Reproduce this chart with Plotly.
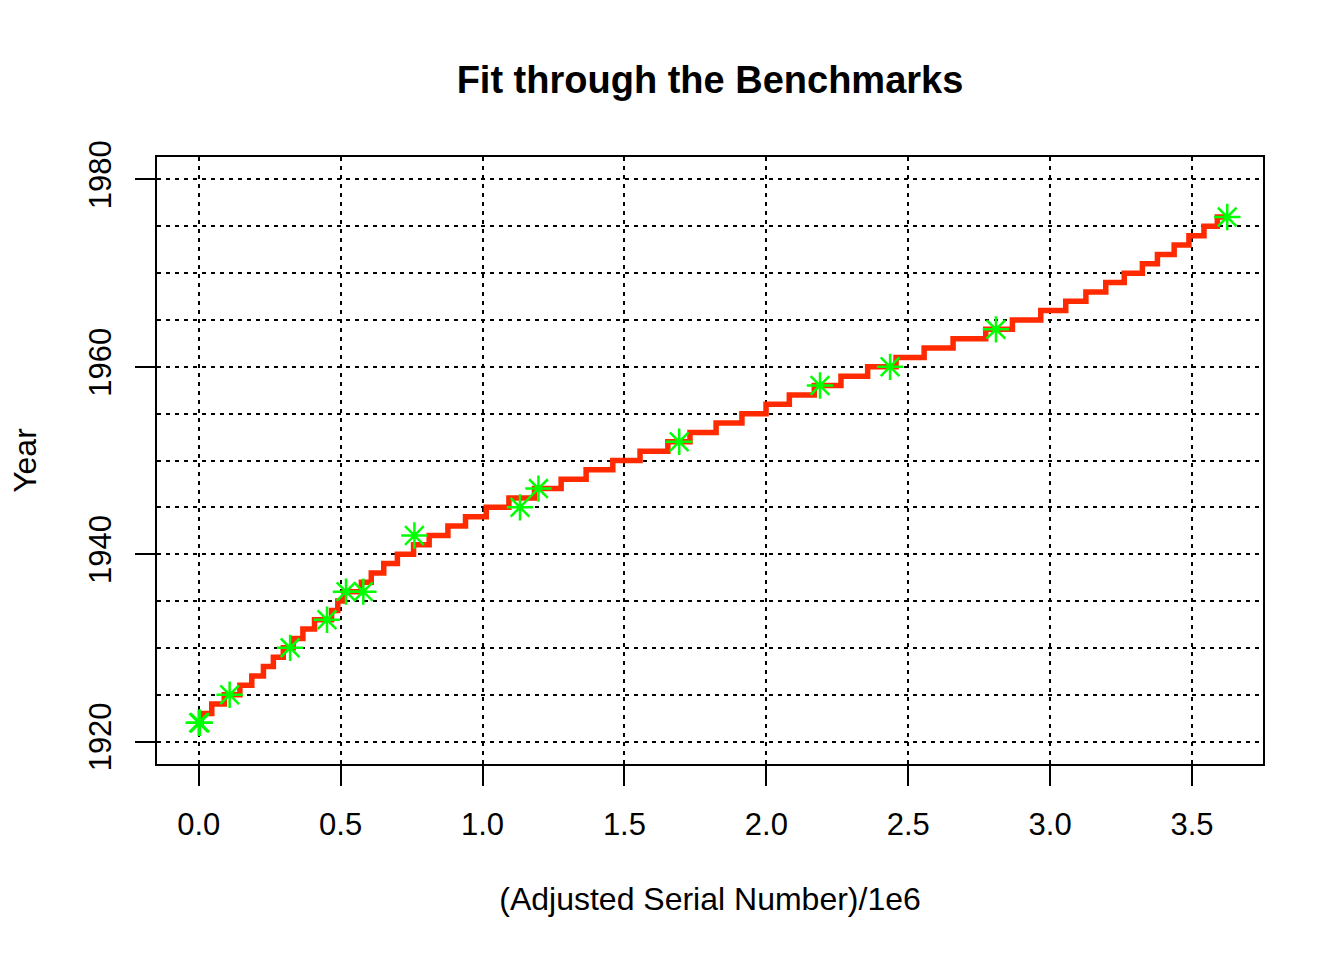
import plotly.graph_objects as go

# step fit: x where each year's level starts (serial number / 1e6)
fit_years = list(range(1922, 1977))
fit_start = [0.000, 0.008, 0.046, 0.090, 0.145, 0.187, 0.228, 0.263, 0.298, 0.333,
             0.367, 0.408, 0.468, 0.490, 0.512, 0.573, 0.608, 0.652, 0.700, 0.757,
             0.812, 0.878, 0.940, 1.013, 1.093, 1.183, 1.277, 1.365, 1.459, 1.555,
             1.653, 1.731, 1.823, 1.914, 1.999, 2.081, 2.169, 2.263, 2.357, 2.457,
             2.556, 2.658, 2.773, 2.867, 2.967, 3.055, 3.126, 3.196, 3.261, 3.325,
             3.378, 3.437, 3.489, 3.542, 3.589]
fit_end = 3.619

# benchmarks
bench_x = [0.000, 0.004, 0.109, 0.322, 0.452, 0.519, 0.580, 0.760, 1.132, 1.197,
           1.693, 2.189, 2.436, 2.809, 3.624]
bench_y = [1922, 1922, 1925, 1930, 1933, 1936, 1936, 1942, 1945, 1947,
           1952, 1958, 1960, 1964, 1976]

font = "Liberation Sans, Arial, Helvetica, sans-serif"
grid = dict(gridcolor="black", gridwidth=1.8, griddash="4px,5px")

fig = go.Figure()

fig.add_trace(go.Scatter(
    x=fit_start + [fit_end], y=fit_years + [fit_years[-1]],
    mode="lines", line=dict(color="#FF2A00", width=5.5, shape="hv"),
    showlegend=False))

fig.add_trace(go.Scatter(
    x=bench_x, y=bench_y, mode="markers",
    marker=dict(symbol="asterisk-open", size=22, color="#00FF00",
                line=dict(color="#00FF00", width=2.5)),
    showlegend=False))

fig.update_layout(
    width=1344, height=960,
    margin=dict(l=157, r=81, t=157, b=196, autoexpand=False),
    plot_bgcolor="white", paper_bgcolor="white",
    font=dict(family=font, size=31, color="black"),
    title=dict(text="<b>Fit through the Benchmarks</b>", x=0.5, xref="paper",
               y=1 - 80 / 960, yanchor="middle", font=dict(size=38)),
)

fig.update_xaxes(
    range=[-0.147, 3.75], tickmode="linear", tick0=0, dtick=0.5, tickformat=".1f",
    showgrid=True, **grid, automargin=False,
    zeroline=False, showline=True, linecolor="black", linewidth=2, mirror=True,
    ticks="outside", ticklen=20, tickwidth=2, tickcolor="black",
    ticklabelstandoff=12,
    title=dict(text="(Adjusted Serial Number)/1e6", standoff=46, font=dict(size=32)))

fig.update_yaxes(
    range=[1917.6, 1982.4], tickmode="linear", tick0=1920, dtick=20, tickangle=-90,
    showgrid=True, **grid, automargin=False,
    minor=dict(dtick=5, showgrid=True, ticks="", **grid),
    zeroline=False, showline=True, linecolor="black", linewidth=2, mirror=True,
    ticks="outside", ticklen=20, tickwidth=2, tickcolor="black",
    ticklabelstandoff=12,
    title=dict(text="Year", standoff=36, font=dict(size=32)))

fig.write_html("out.html", config={"displayModeBar": False},
               post_script="document.body.style.margin='0';")
